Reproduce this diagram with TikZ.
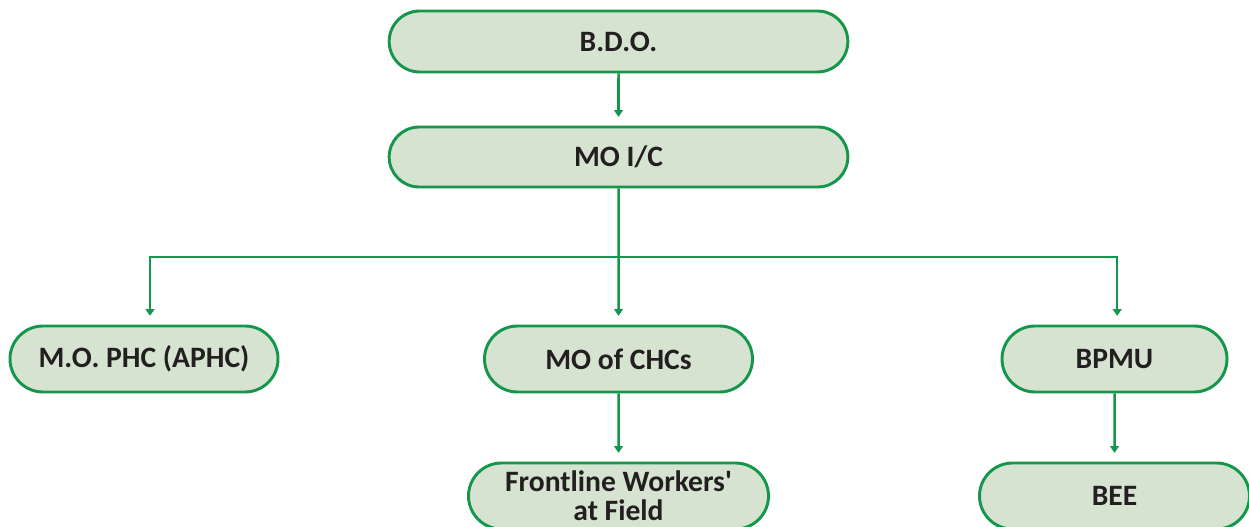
\documentclass[tikz,border=0pt]{standalone}
\usepackage{fontspec}
\setmainfont{Carlito}
\usetikzlibrary{shapes.misc,arrows.meta}
\definecolor{boxline}{RGB}{20,150,75}
\definecolor{boxfill}{RGB}{214,227,209}
\definecolor{txt}{RGB}{35,31,32}
\tikzset{
  orgbox/.style={rounded rectangle, draw=boxline, fill=boxfill, line width=2.2pt,
    inner sep=0pt, text=txt, font=\fontsize{22.2}{21.5}\selectfont\bfseries, align=center},
  conn/.style={draw=boxline, line width=1.9pt, -{Triangle[length=5pt,width=6.5pt]}, shorten >=6.5pt},
}
\begin{document}
\begin{tikzpicture}[x=0.75pt,y=-0.75pt]
\useasboundingbox (0,0) rectangle (1249,527);
\clip (0,0) rectangle (1249,527);
\node[orgbox, minimum width=344pt, minimum height=45.75pt] (bdo) at (618.5,41.5) {B.D.O.};
\node[orgbox, minimum width=344pt, minimum height=45pt] (mo) at (618.5,157) {MO I/C};
\node[orgbox, minimum width=201pt, minimum height=49.5pt] (phc) at (144,359) {M.O. PHC (APHC)};
\node[orgbox, minimum width=201pt, minimum height=49.5pt] (chc) at (618.5,359) {MO of CHCs};
\node[orgbox, minimum width=168.75pt, minimum height=49.5pt] (bpmu) at (1114.5,359) {BPMU};
\node[orgbox, minimum width=225pt, minimum height=49.5pt] (flw) at (618.5,496) {Frontline Workers\textquotesingle\\at Field};
\node[orgbox, minimum width=202.5pt, minimum height=49.5pt] (bee) at (1114.5,496) {BEE};
\coordinate (bus) at (618.5,257);
\draw[conn] (bdo) -- (mo);
\draw[conn] (mo) -- (chc);
\draw[conn] (bus) -| ([xshift=4.5pt]phc.north);
\draw[conn] (bus) -| ([xshift=2pt]bpmu.north);
\draw[conn] (chc) -- (flw);
\draw[conn] (bpmu) -- (bee);
\end{tikzpicture}
\end{document}
